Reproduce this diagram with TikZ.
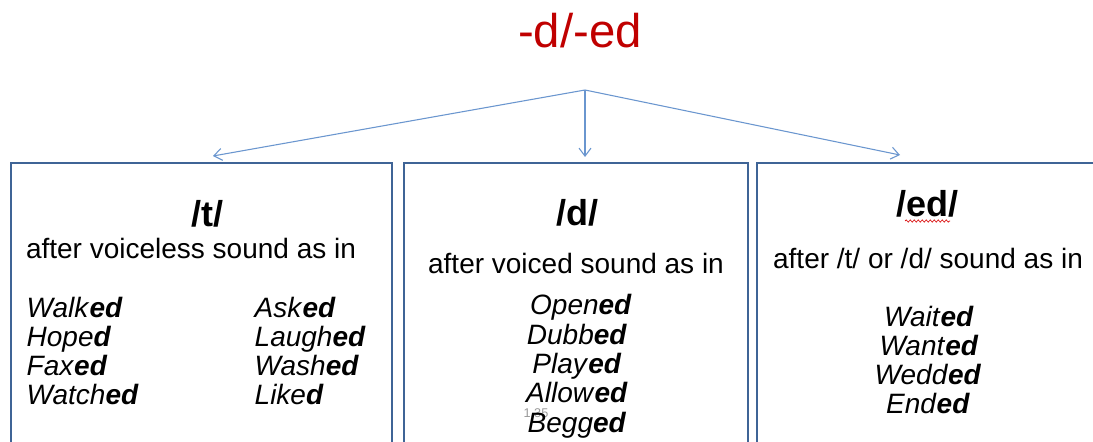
\documentclass[tikz,border=0pt]{standalone}
\usepackage{fontspec}
\setmainfont{Liberation Sans}
\usetikzlibrary{arrows.meta,decorations.pathmorphing}
\definecolor{boxblue}{HTML}{3F6496}
\definecolor{linkblue}{HTML}{6A96CF}
\definecolor{titlered}{HTML}{C00000}
\newcommand{\ED}[1]{\textit{#1}\textbf{\textit{ed}}}
\newcommand{\EDd}[1]{\textit{#1}\textbf{\textit{d}}}
\tikzset{
  panel/.style={draw=boxblue, line width=2.2pt},
  link/.style={draw=linkblue, line width=0.8pt, -{Straight Barb[length=6pt,width=9pt]}},
  head/.style={anchor=base, font=\fontsize{27}{30}\selectfont\bfseries},
  rule/.style={anchor=base, font=\fontsize{21}{24}\selectfont},
  words/.style={anchor=base, font=\fontsize{21}{22}\selectfont},
}
\begin{document}
\begin{tikzpicture}[x=0.75pt,y=-0.75pt]
\useasboundingbox (0,0) rectangle (1093,442);
\clip (0,0) rectangle (1093,442);
\fill[white] (0,0) rectangle (1093,442);

% title
\node[anchor=base, text=titlered, font=\fontsize{35.5}{40}\selectfont] (title) at (580,48) {-d/-ed};

% branching connectors
\coordinate (apex) at (585,90);
\coordinate (tipT) at (213,156);
\coordinate (tipD) at (585,157);
\coordinate (tipE) at (900,155);
\draw[link] (apex) -- (tipT);
\draw[link] (apex) -- (tipD);
\draw[link] (apex) -- (tipE);

% three panels
\draw[panel] (11,470) -- (11,163) -- (392,163) -- (392,470);
\draw[panel] (404,470) -- (404,163) -- (748,163) -- (748,470);
\draw[panel] (757,470) -- (757,163) -- (1110,163);

% /t/ panel
\node[head] (hT) at (207,227) {/t/};
\node[rule] (rT) at (191,258) {after voiceless sound as in};
\node[words, anchor=base west] (w1) at (22,317) {\ED{Walk}};
\node[words, anchor=base west] (w2) at (22,346) {\EDd{Hope}};
\node[words, anchor=base west] (w3) at (22,375) {\ED{Fax}};
\node[words, anchor=base west] (w4) at (22,404) {\ED{Watch}};
\node[words, anchor=base west] (w5) at (250,317) {\ED{Ask}};
\node[words, anchor=base west] (w6) at (250,346) {\ED{Laugh}};
\node[words, anchor=base west] (w7) at (250,375) {\ED{Wash}};
\node[words, anchor=base west] (w8) at (250,404) {\EDd{Like}};

% /d/ panel
\node[head] (hD) at (577,226) {/d/};
\node[rule] (rD) at (576,273) {after voiced sound as in};
\node[anchor=base, text=gray!80, font=\fontsize{9.5}{10}\selectfont] (pg) at (536,417) {1.35};
\node[words] (d1) at (581,315) {\ED{Open}};
\node[words] (d2) at (577,344) {\ED{Dubb}};
\node[words] (d3) at (577,373) {\ED{Play}};
\node[words] (d4) at (577,402) {\ED{Allow}};
\node[words] (d5) at (577,432) {\ED{Begg}};

% /ed/ panel
\node[head] (hE) at (927,217) {/ed/};
\coordinate (sqA) at (905,221);
\coordinate (sqB) at (950,221);
\draw[red!85!black, line width=0.5pt, decorate,
  decoration={snake, amplitude=0.8pt, segment length=3pt}] (sqA) -- (sqB);
\node[rule] (rE) at (928,268) {after /t/ or /d/ sound as in};
\node[words] (e1) at (929,326) {\ED{Wait}};
\node[words] (e2) at (929,355) {\ED{Want}};
\node[words] (e3) at (928,384) {\ED{Wedd}};
\node[words] (e4) at (928,413) {\ED{End}};
\end{tikzpicture}
\end{document}
